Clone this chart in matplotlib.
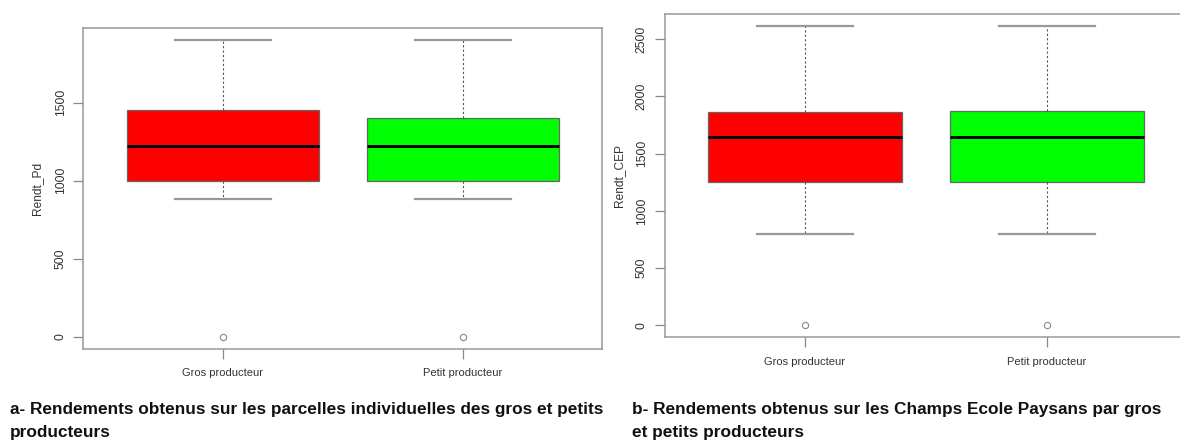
import matplotlib.pyplot as plt

groupes = ['Gros producteur', 'Petit producteur']
couleurs = ['#ff0000', '#00ff00']

# a- parcelles individuelles (Rendt_Pd)
pd_bas = [885, 885]
pd_q1 = [1000, 1000]
pd_med = [1225, 1225]
pd_q3 = [1455, 1400]
pd_haut = [1900, 1900]
pd_atyp = [[0], [0]]

# b- champs ecole paysans (Rendt_CEP)
cep_bas = [800, 800]
cep_q1 = [1248, 1248]
cep_med = [1648, 1648]
cep_q3 = [1860, 1874]
cep_haut = [2615, 2615]
cep_atyp = [[0], [0]]

tick_a = [0, 500, 1000, 1500]
tick_b = [0, 500, 1000, 1500, 2000, 2500]

legende_a = ['a- Rendements obtenus sur les parcelles individuelles des gros et petits',
             'producteurs']
legende_b = ['b- Rendements obtenus sur les Champs Ecole Paysans par gros',
             'et petits producteurs']

W, H = 1180, 443
fig = plt.figure(figsize=(W/100, H/100), dpi=100)
plt.rcParams['font.family'] = ['Liberation Sans', 'DejaVu Sans']


def boite(ax, bas, q1, med, q3, haut, atyp, ticks, nom, xlab):
    stats = []
    for i in range(len(groupes)):
        stats.append(dict(whislo=bas[i], q1=q1[i], med=med[i], q3=q3[i],
                          whishi=haut[i], fliers=atyp[i], label=groupes[i]))
    res = ax.bxp(stats, positions=[1, 2], widths=0.8, patch_artist=True,
                 boxprops=dict(edgecolor='#666666', linewidth=0.9),
                 whiskerprops=dict(color='#555555', linestyle=(0, (2, 2)), linewidth=0.8),
                 capprops=dict(color='#999999', linewidth=1.6),
                 medianprops=dict(color='black', linewidth=2.1),
                 flierprops=dict(marker='o', markerfacecolor='none',
                                 markeredgecolor='#888888', markersize=4.5,
                                 markeredgewidth=0.8))
    for b, c in zip(res['boxes'], couleurs):
        b.set_facecolor(c)
    top = max(haut)
    ax.set_xlim(0.42, 2.58)
    ax.set_ylim(-0.04*top, 1.04*top)
    ax.set_yticks(ticks)
    ax.set_yticklabels([str(t) for t in ticks], rotation=90, va='center')
    ax.set_xticks([1, 2])
    ax.set_xticklabels(groupes)
    ax.tick_params(axis='y', length=7, width=0.9, color='#888888', pad=5,
                   labelsize=8.8, labelcolor='#333333')
    ax.tick_params(axis='x', length=7, width=0.9, color='#888888', pad=7,
                   labelsize=8, labelcolor='#333333')
    for s in ax.spines.values():
        s.set_color('#999999')
        s.set_linewidth(1.1)
    ax.set_ylabel(nom, fontsize=8.6, color='#333333', va='bottom')
    ax.yaxis.set_label_coords(xlab, 0.5)


ax1 = fig.add_axes([83.3/W, 1-348.7/H, (601.7-83.3)/W, (348.7-28.3)/H])
boite(ax1, pd_bas, pd_q1, pd_med, pd_q3, pd_haut, pd_atyp, tick_a, 'Rendt_Pd', -0.078)

ax2 = fig.add_axes([664.6/W, 1-337.3/H, 522.7/W, (337.3-14)/H])
boite(ax2, cep_bas, cep_q1, cep_med, cep_q3, cep_haut, cep_atyp, tick_b, 'Rendt_CEP', -0.076)

# legendes sous les graphes, une ligne a la fois
for x0, lignes in [(10, legende_a), (632, legende_b)]:
    for k, txt in enumerate(lignes):
        fig.text(x0/W, 1-(414 + 23*k)/H, txt, ha='left', va='baseline',
                 fontsize=12.4, fontweight='bold', color='#111111')

fig.savefig('out.png', dpi=100)
